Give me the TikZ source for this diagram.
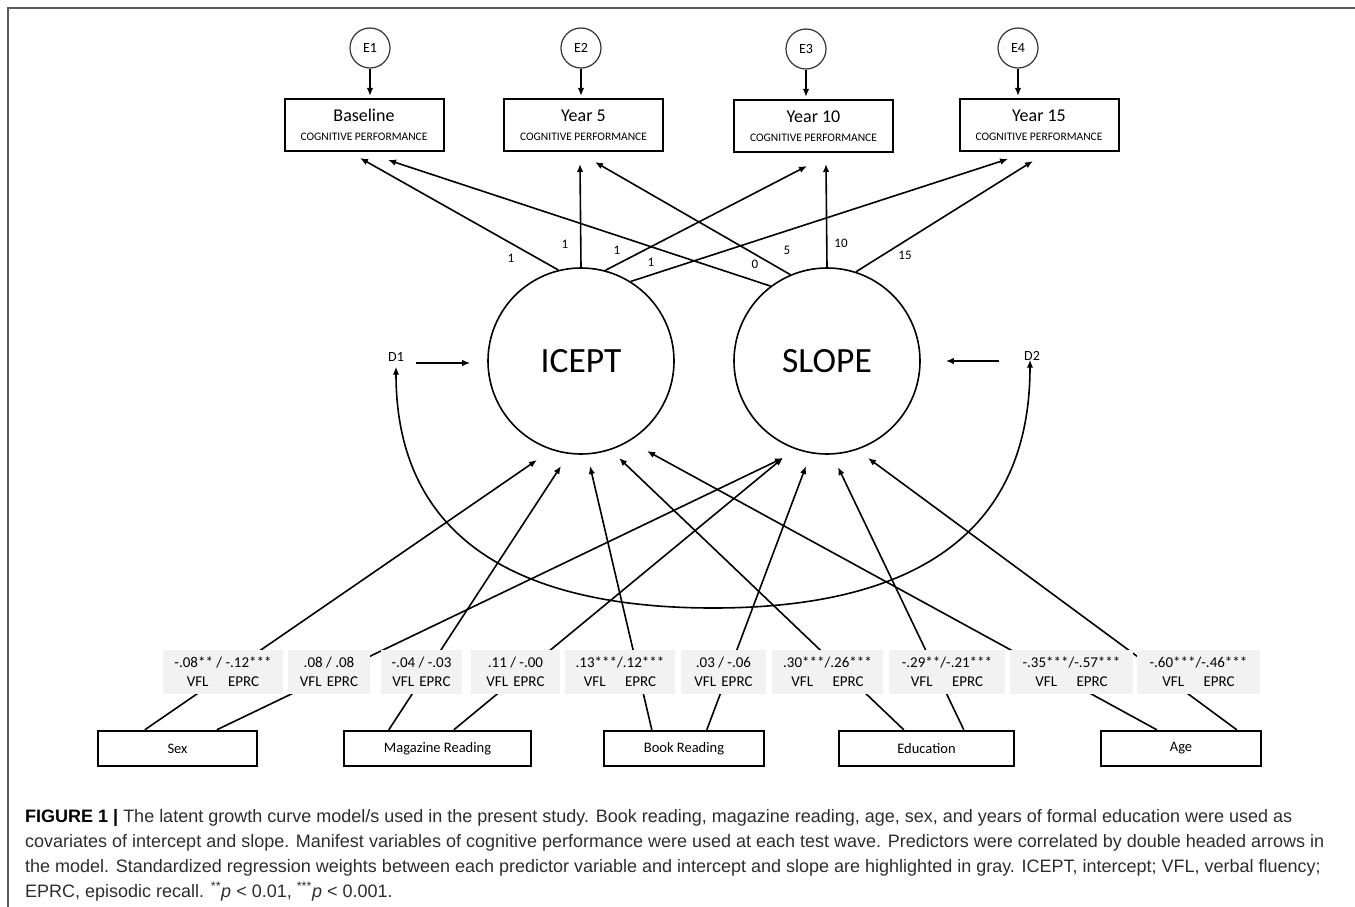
\documentclass[tikz,border=0pt]{standalone}
\usepackage{fontspec}
\setmainfont{Carlito}
\newfontfamily\capfont{Liberation Sans}
\usetikzlibrary{arrows.meta,calc}
\definecolor{lblgray}{RGB}{242,242,242}
\definecolor{capgray}{RGB}{45,45,45}
\definecolor{framegray}{RGB}{90,90,90}
\newcommand{\cogperf}{\\\fontsize{11.5}{19}\selectfont COGNITIVE PERFORMANCE}
\newcommand{\vflwide}{VFL\hspace{1.3em}EPRC}
\newcommand{\vflnarrow}{VFL\hspace{0.35em}EPRC}
\begin{document}
\begin{tikzpicture}[x=1pt,y=-1pt,
  tip/.style={-{Latex[length=8pt,width=6.5pt]}},
  conn/.style={line width=1.6pt,tip},
  errc/.style={circle,draw=black!80,line width=1.2pt,minimum size=40pt,inner sep=0pt,font=\fontsize{14}{16}\selectfont},
  obsbox/.style={draw,line width=2pt,minimum width=159pt,minimum height=52pt,inner sep=0pt,align=center,font=\fontsize{18}{19}\selectfont},
  latent/.style={circle,draw,line width=1.6pt,minimum size=186pt,inner sep=0pt,font=\fontsize{35.5}{40}\selectfont},
  predbox/.style={draw,line width=2.4pt,minimum height=35pt,inner sep=0pt,font=\fontsize{14.5}{16}\selectfont},
  wlbl/.style={fill=lblgray,minimum height=44pt,inner sep=0pt,align=center,font=\fontsize{15}{19}\selectfont},
  pathlbl/.style={font=\fontsize{13}{15}\selectfont,inner sep=0pt},
  dlbl/.style={font=\fontsize{14}{16}\selectfont,inner sep=2pt},
  capline/.style={anchor=base west,inner sep=0pt,text=capgray,font=\capfont\fontsize{18}{22}\selectfont},
]
\useasboundingbox (0,0) rectangle (1355,907);
\draw[line width=2pt,framegray] (8,907) -- (8,8) -- (1355,8);

% error terms and observed boxes
\node[errc] (e1) at (370,48) {E1};
\node[errc] (e2) at (581,48) {E2};
\node[errc] (e3) at (806,49) {E3};
\node[errc] (e4) at (1018,48) {E4};
\node[obsbox] (b0) at (364,125) {Baseline\cogperf};
\node[obsbox] (b5) at (583.5,125) {Year 5\cogperf};
\node[obsbox] (b10) at (813.5,126) {Year 10\cogperf};
\node[obsbox] (b15) at (1039,125) {Year 15\cogperf};
\draw[conn,shorten >=2pt] (e1) -- (e1 |- b0.north);
\draw[conn,shorten >=2pt] (e2) -- (e2 |- b5.north);
\draw[conn,shorten >=2pt] (e3) -- (e3 |- b10.north);
\draw[conn,shorten >=2pt] (e4) -- (e4 |- b15.north);

% latent factors
\node[latent] (icept) at (581,361) {ICEPT};
\node[latent] (slope) at (827,361) {SLOPE};

% loadings
\draw[conn] (icept.104.5) -- ([shift={(-4,6)}]b0.south);
\draw[conn] (icept.90) -- ([shift={(-3.5,12)}]b5.south);
\draw[conn] (icept.75) -- ([shift={(-6.5,13)}]b10.south);
\draw[conn] (icept.58) -- ([shift={(-31,7)}]b15.south);
\draw[conn] (slope.127) -- ([shift={(24,8)}]b0.south);
\draw[conn] (slope.113) -- ([shift={(11.5,10)}]b5.south);
\draw[conn] (slope.90) -- ([shift={(12.5,11)}]b10.south);
\draw[conn] (slope.72) -- ([shift={(-6,9)}]b15.south);
\node[pathlbl] (l1) at (511,258) {1};
\node[pathlbl] (l2) at (565,244) {1};
\node[pathlbl] (l3) at (617,250) {1};
\node[pathlbl] (l4) at (651,262) {1};
\node[pathlbl] (l5) at (755,264) {0};
\node[pathlbl] (l6) at (787,250) {5};
\node[pathlbl] (l7) at (841,243) {10};
\node[pathlbl] (l8) at (905,255) {15};

% disturbances
\node[dlbl] (d1) at (396,357) {D1};
\node[dlbl] (d2) at (1032,356) {D2};
\draw[conn,line width=2.2pt] ([shift={(10,6)}]d1.east) -- ([shift={(-17,2)}]icept.west);
\draw[conn,line width=2.2pt] ([shift={(-23,5)}]d2.west) -- ([shift={(25,0)}]slope.east);
\coordinate (cbot) at (713,608);
\draw[line width=1.6pt,{Latex[length=8pt,width=6.5pt]}-{Latex[length=8pt,width=6.5pt]}]
  ([yshift=-3pt]d1.south) .. controls (396,565) and (560,608) .. (cbot)
  .. controls (866,608) and (1030,565) .. ([shift={(-2,-3)}]d2.south);

% predictors
\node[predbox,minimum width=159pt] (sex) at (177.5,748.5) {Sex};
\node[predbox,minimum width=187pt] (mag) at (437.5,748.5) {Magazine Reading};
\node[predbox,minimum width=160pt] (book) at (684,748.5) {Book Reading};
\node[predbox,minimum width=175pt] (edu) at (926.5,748.5) {Education};
\node[predbox,minimum width=160pt] (age) at (1181,748.5) {Age};

\draw[conn] ([xshift=48pt]sex.north west) -- ([shift={(-44,99)}]icept.center);
\draw[conn] ([xshift=120pt]sex.north west) -- ([shift={(-44,97)}]slope.center);
\draw[conn] ([xshift=46pt]mag.north west) -- ([shift={(-20,105)}]icept.center);
\draw[conn] ([xshift=111pt]mag.north west) -- ([shift={(-44,97)}]slope.center);
\draw[conn] ([xshift=49pt]book.north west) -- ([shift={(9,105)}]icept.center);
\draw[conn] ([xshift=104pt]book.north west) -- ([shift={(-21,105)}]slope.center);
\draw[conn] ([xshift=66pt]edu.north west) -- ([shift={(38,97)}]icept.center);
\draw[conn] ([xshift=126pt]edu.north west) -- ([shift={(11,106)}]slope.center);
\draw[conn] ([xshift=57pt]age.north west) -- ([shift={(66,90)}]icept.center);
\draw[conn] ([xshift=137pt]age.north west) -- ([shift={(41,97)}]slope.center);

% standardized weights
\node[wlbl,minimum width=120pt] (w1) at (223,672) {-.08** / -.12***\\\vflwide};
\node[wlbl,minimum width=82pt] (w2) at (329,672) {.08 / .08\\\vflnarrow};
\node[wlbl,minimum width=81pt] (w3) at (421.5,672) {-.04 / -.03\\\vflnarrow};
\node[wlbl,minimum width=89pt] (w4) at (515.5,672) {.11 / -.00\\\vflnarrow};
\node[wlbl,minimum width=110pt] (w5) at (620,672) {.13***/.12***\\\vflwide};
\node[wlbl,minimum width=85pt] (w6) at (723.5,672) {.03 / -.06\\\vflnarrow};
\node[wlbl,minimum width=111pt] (w7) at (827.5,672) {.30***/.26***\\\vflwide};
\node[wlbl,minimum width=116pt] (w8) at (947,672) {-.29**/-.21***\\\vflwide};
\node[wlbl,minimum width=123pt] (w9) at (1071.5,672) {-.35***/-.57***\\\vflwide};
\node[wlbl,minimum width=123pt] (w10) at (1198.5,672) {-.60***/-.46***\\\vflwide};

% caption
\node[capline] (c1) at (25,822) {{\color{black}\bfseries FIGURE 1 |} The latent growth curve model/s used in the present study. Book reading, magazine reading, age, sex, and years of formal education were used as};
\node[capline] (c2) at (25,847) {covariates of intercept and slope. Manifest variables of cognitive performance were used at each test wave. Predictors were correlated by double headed arrows in};
\node[capline] (c3) at (25,872) {the model. Standardized regression weights between each predictor variable and intercept and slope are highlighted in gray. ICEPT, intercept; VFL, verbal fluency;};
\node[capline] (c4) at (25,897) {EPRC, episodic recall. \textsuperscript{**}\textit{p} < 0.01, \textsuperscript{***}\textit{p} < 0.001.};
\end{tikzpicture}
\end{document}
